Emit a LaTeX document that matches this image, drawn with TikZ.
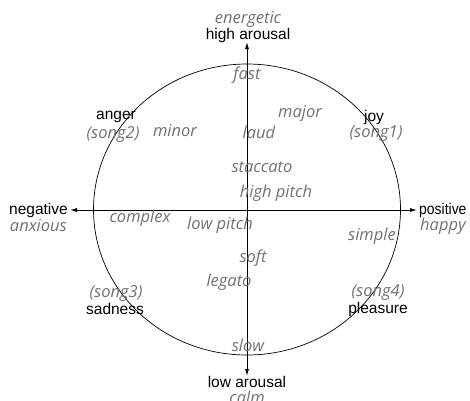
\documentclass[tikz,border=0pt]{standalone}
\usepackage{fontspec}
\usepackage{graphicx}
\setmainfont{Liberation Sans}
\newfontfamily\hintfont{Open Sans}
\usetikzlibrary{arrows.meta}
\definecolor{hintgray}{RGB}{112,113,117}
\tikzset{
  emotion/.style={font=\fontsize{15.5}{16}\selectfont, text=black, inner sep=0pt},
  hint/.style={font=\hintfont\itshape\fontsize{16.5}{17}\selectfont, text=hintgray, inner sep=0pt},
  axis/.style={line width=0.9pt, {Latex[length=7pt,width=4pt]}-{Latex[length=7pt,width=4pt]}},
}
\begin{document}
\begin{tikzpicture}[x=1pt,y=-1pt]
\useasboundingbox (0,0) rectangle (470,400);
% circumplex outline
\draw[line width=0.7pt] (247,209.5) ellipse [x radius=153.5, y radius=145.5];
% axes
\coordinate (top) at (247,42);
\coordinate (bottom) at (247,376);
\coordinate (left) at (70,210);
\coordinate (right) at (417,210);
\draw[axis] (bottom) -- (top);
\draw[axis] (left) -- (right);
% axis labels
\node[hint] (energetic) at (248,19) {energetic};
\node[emotion] (higharousal) at (248,35) {high arousal};
\node[emotion] (lowarousal) at (247,382) {low arousal};
\node[hint] (calm) at (247,397) {calm};
\node[emotion, anchor=east] (negative) at (68,210) {negative};
\node[hint, anchor=east] (anxious) at (67,226) {anxious};
\node[emotion, anchor=west] (positive) at (419,210) {\scalebox{0.9}[1]{positive}};
\node[hint, anchor=west] (happy) at (420,226) {happy};
% quadrant emotions
\node[emotion] (anger) at (116,117) {anger};
\node[hint] (song2) at (113,135) {(song2)};
\node[emotion] (joy) at (374,117) {joy};
\node[hint] (song1) at (376,134) {(song1)};
\node[hint] (song3) at (116,293) {(song3)};
\node[emotion] (sadness) at (115,309) {sadness};
\node[hint] (song4) at (378,293) {(song4)};
\node[emotion] (pleasure) at (378,309) {pleasure};
% musical features
\node[hint] (fast) at (247,75) {fast};
\node[hint] (minor) at (175,130) {minor};
\node[hint] (major) at (300,113) {major};
\node[hint] (laud) at (259,132) {laud};
\node[hint] (staccato) at (262,167) {staccato};
\node[hint] (highpitch) at (276,193) {high pitch};
\node[hint] (complex) at (140,218) {complex};
\node[hint] (lowpitch) at (220,225) {low pitch};
\node[hint] (simple) at (372,236) {simple};
\node[hint] (soft) at (253,258) {soft};
\node[hint] (legato) at (229,282) {legato};
\node[hint] (slow) at (248,345) {slow};
\end{tikzpicture}
\end{document}
